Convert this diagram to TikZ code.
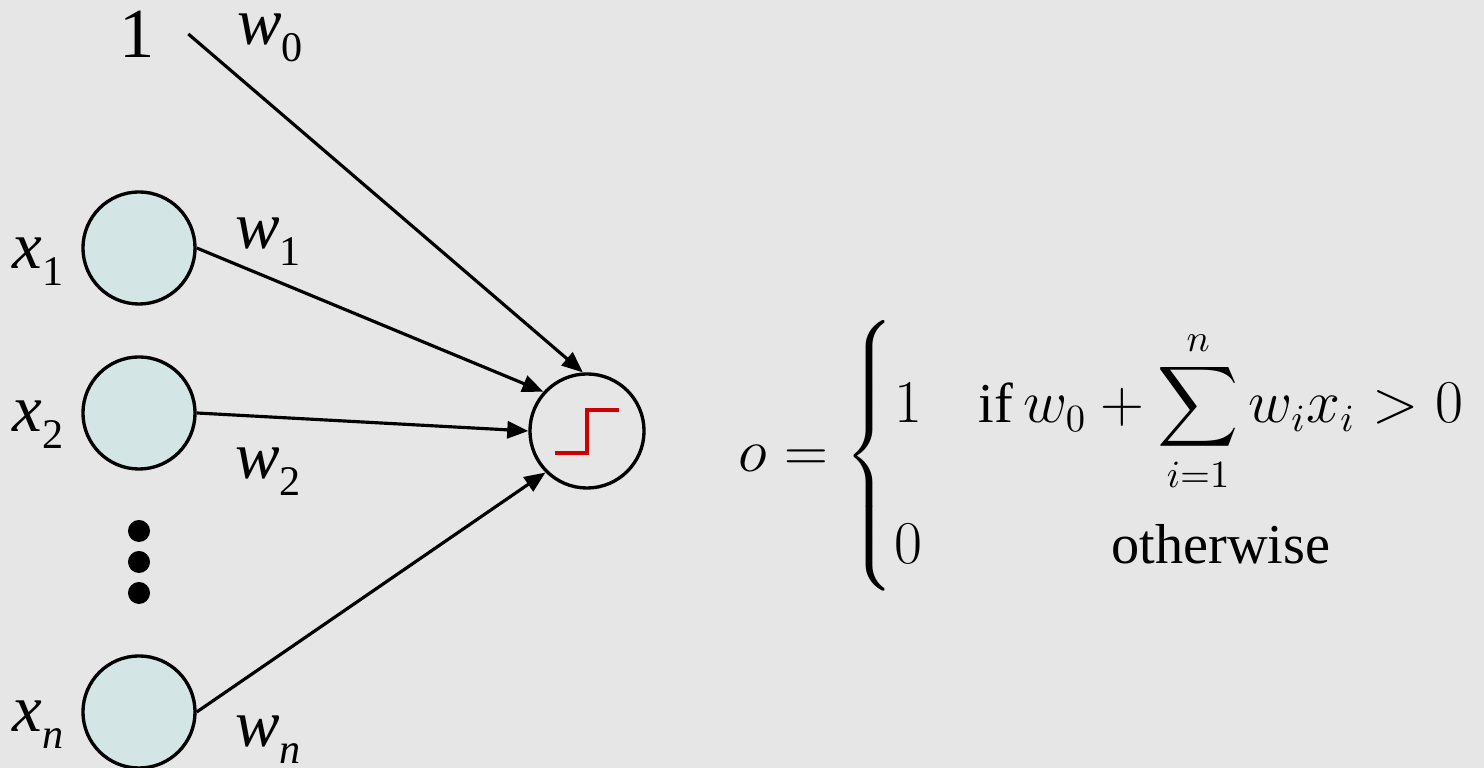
\documentclass[tikz,border=0pt]{standalone}
\usepackage{amsmath, amssymb}
\usepackage{fontspec}
\setmainfont{Liberation Serif}
\usepackage{tikz}
\usetikzlibrary{arrows.meta, positioning, calc}
\definecolor{panelgray}{RGB}{230, 230, 230}
\definecolor{inputcyan}{RGB}{211, 230, 229}
\definecolor{stepred}{RGB}{204, 0, 0}
\newcommand{\wlabel}[2]{\textit{#1}\raisebox{-4.8pt}{\fontsize{12}{12}\selectfont #2}}

\begin{document}
\begin{tikzpicture}[
  x=0.01cm, y=-0.01cm,
  every node/.style={font=\fontsize{19}{22}\selectfont},
  unit/.style={
    circle, draw=black, line width=0.95pt, fill=inputcyan,
    minimum size=1.12cm, inner sep=0pt
  },
  neuron/.style={
    circle, draw=black, line width=0.95pt,
    minimum size=1.14cm, inner sep=0pt
  },
  dot/.style={circle, fill=black, minimum size=0.22cm, inner sep=0pt},
  wire/.style={-{Triangle[length=0.21cm, width=0.17cm]}, line width=0.9pt},
  rule/.style={font=\fontsize{16}{19}\selectfont, inner sep=0pt}
]

  % Sfondo
  \useasboundingbox (0,0) rectangle (1484,768);
  \fill[panelgray] (0,0) rectangle (1484,768);

  % Ingressi
\node[unit] (in1) at (139,248) {};
\node[unit] (in2) at (139,413) {};
\node[unit] (inn) at (139,712) {};
  \foreach \y/\k in {531/a, 562/b, 593/c}
    \node[dot] (dot\k) at (139,\y) {};
\node[font=\fontsize{20}{22}\selectfont, inner xsep=0.33cm] (bias) at (137,34) {1};

\node (x1) at (38,262) {\wlabel{x}{1}};
\node (x2) at (38,425) {\wlabel{x}{2}};
\node (xn) at (38,725) {\wlabel{x}{\textit{n}}};

  % Neurone con gradino
\node[neuron] (out) at (587,431) {};
  \draw[stepred, line width=1.15pt] ($(out.center)+(-32,22)$) -- ++(32,0) -- ++(0,-43) -- ++(32,0);

  % Pesi
  \draw[wire] (bias.east) -- (out.94);
  \draw[wire] (in1.east) -- (out.138);
  \draw[wire] (in2.east) -- (out.180);
  \draw[wire] (inn.east) -- (out.225);

\node (w0) at (270,38) {\wlabel{w}{0}};
\node (w1) at (268,242) {\wlabel{w}{1}};
\node (w2) at (268,472) {\wlabel{w}{2}};
\node (wn) at (268,740) {\wlabel{w}{\textit{n}}};

  % Regola di uscita
\node[rule] (formula) at (1103,456) {$o = \left\{\begin{array}{@{}l@{\quad}c@{}}
    1 & \text{if}\, w_0 + \displaystyle\sum_{i=1}^{n} w_i x_i > 0\\[21pt]
    0 & \text{otherwise}
  \end{array}\right.$};

\end{tikzpicture}
\end{document}
